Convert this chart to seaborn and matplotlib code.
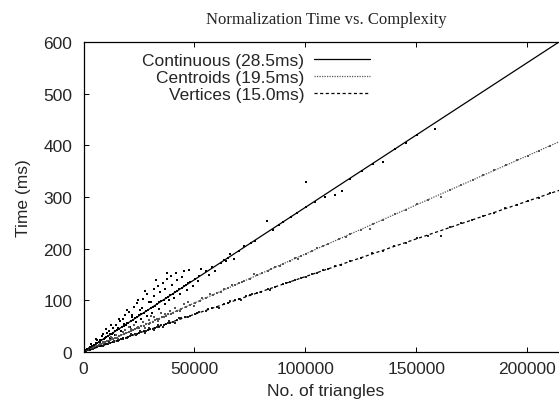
import matplotlib
matplotlib.use("Agg")
import matplotlib.pyplot as plt
import seaborn as sns
from matplotlib.lines import Line2D

# ---------------- data ----------------
cont_x = [900, 1800, 2600, 3100, 3900, 4600, 5200, 5600, 6100, 6300, 7200, 7600, 8100, 8400,
          9100, 9600, 10200, 10500, 11100, 11600, 12100, 12700, 13200, 13400, 14100, 14700,
          15200, 15600, 16100, 16400, 17200, 17600, 18100, 18700, 19200, 19600, 20100, 20400,
          21200, 21700, 22100, 22600, 23200, 24100, 24300, 25200, 25600, 26100, 26700, 27100,
          28200, 28400, 29100, 30200, 30500, 31100, 31600, 32200, 33100, 33400, 34200, 35100,
          35600, 36200, 37100, 37400, 38200, 39100, 39300, 40200, 41100, 41600, 42200, 43100,
          44200, 45100, 45300, 46200, 47100, 48200, 50300, 52100, 55200, 58100, 63200, 64300,
          65100, 70200, 75300, 77100, 82800, 85200, 90100, 93300, 100200, 100400, 104100,
          113200, 116300, 120100, 125400, 130200, 134800, 140300, 145100, 150200, 158300,
          3500, 5800, 7400, 8800, 10300, 11800, 12600, 14300, 15800, 16900, 18300, 19700,
          20800, 21900, 23600, 24700, 25800, 26300, 27600, 28800, 29600, 30900, 31900, 32600,
          33800, 34600, 36500, 36900, 37800, 38600, 39800, 40700, 41900, 43400, 44600, 46800,
          47600, 49200, 51800, 53100, 56400, 59300, 61800, 66200, 67800, 72100, 88300, 96200,
          108600]
cont_y = [3, 6, 8, 9, 12, 14, 14, 17, 18, 23, 20, 24, 23, 31, 26, 27, 29, 36, 31, 41, 34,
          35, 37, 47, 40, 53, 42, 46, 45, 60, 49, 63, 50, 72, 53, 57, 56, 77, 60, 67, 62, 88,
          65, 67, 94, 72, 82, 73, 103, 76, 79, 112, 82, 86, 96, 87, 121, 90, 93, 128, 96, 99,
          133, 101, 104, 142, 107, 110, 147, 113, 116, 152, 119, 121, 124, 127, 157, 130, 133,
          136, 141, 147, 156, 164, 178, 176, 182, 195, 211, 214, 254, 237, 251, 262, 329, 280,
          291, 304, 312, 335, 351, 363, 367, 392, 404, 420, 431,
          15, 25, 19, 34, 44, 28, 52, 33, 63, 41, 55, 81, 48, 72, 58, 101, 64, 86, 118, 70,
          97, 76, 108, 140, 84, 117, 122, 92, 152, 100, 129, 104, 139, 112, 146, 120, 158,
          128, 138, 160, 150, 157, 172, 190, 180, 205, 245, 270, 300]

cent_x = [1100, 1900, 3200, 3800, 5100, 6200, 6900, 8100, 9200, 9800, 11100, 11900, 12300,
          13200, 14100, 14900, 16200, 16800, 18100, 19200, 20300, 20500, 21200, 22100, 23300,
          24100, 25200, 26100, 27200, 28100, 29300, 30100, 30400, 31200, 32100, 33200, 34100,
          35300, 36100, 37200, 38100, 39200, 40100, 42300, 44100, 46200, 48100, 50200, 52300,
          55100, 58200, 60100, 63300, 65100, 68200, 70100, 72300, 75200, 78100, 80300, 83100,
          86200, 90100, 93200, 95300, 98100, 100200, 103100, 105300, 108100, 110200, 115100,
          118300, 120100, 125200, 129000, 130200, 135100, 140300, 145200, 150100, 155300,
          161000, 165200, 170100, 175300, 180200, 185100, 190300, 195200, 200100, 205300, 210200,
          2500, 4300, 5700, 7500, 8700, 10400, 12800, 14600, 15500, 17600, 18800, 21600, 22800,
          24600, 26700, 27800, 29700, 31600, 33700, 34800, 36700, 38800, 41200, 43300, 45400,
          47300, 49600, 53400, 57100, 61900, 66700, 71300, 76800, 84400, 88700, 96800]
cent_y = [2, 4, 6, 8, 10, 11, 14, 15, 17, 20, 21, 23, 30, 25, 27, 28, 31, 33, 34, 36, 38,
          48, 40, 42, 44, 46, 47, 50, 51, 54, 55, 57, 70, 59, 61, 63, 64, 67, 68, 70, 73, 74,
          76, 80, 83, 88, 91, 95, 99, 105, 110, 114, 121, 123, 130, 133, 138, 142, 149, 152,
          157, 164, 171, 176, 181, 186, 190, 195, 201, 205, 209, 219, 223, 229, 237, 238, 248,
          256, 267, 275, 286, 294, 300, 314, 323, 333, 342, 352, 361, 371, 380, 390, 399,
          7, 10, 14, 16, 19, 22, 28, 32, 25, 38, 42, 45, 52, 49, 58, 47, 62, 68, 60, 75, 73,
          80, 86, 79, 92, 96, 90, 104, 112, 116, 130, 135, 151, 160, 166, 180]

vert_x = [1000, 2100, 2900, 4100, 4900, 6100, 7100, 7900, 9100, 10100, 10900, 12100, 13100,
          13900, 15100, 16100, 17100, 17900, 19100, 20100, 21100, 21900, 23100, 24100, 25100,
          25900, 27100, 28100, 29100, 29900, 31100, 32100, 33100, 33900, 35100, 36100, 37100,
          37900, 39100, 40100, 42100, 44100, 45900, 48100, 50100, 52100, 55100, 58100, 60100,
          63100, 65100, 68100, 70100, 73100, 75100, 78100, 80100, 83100, 86100, 90100, 93100,
          95100, 98100, 100100, 103100, 105100, 108100, 110100, 113100, 116100, 120100, 125100,
          130100, 135100, 140100, 145100, 150100, 155100, 161000, 165100, 170100, 175100,
          180100, 185100, 190100, 195100, 200100, 205100, 210100,
          2600, 4600, 6700, 8600, 9600, 11600, 13600, 15600, 17600, 19600, 21600, 23600, 25600,
          27600, 29600, 31600, 33600, 35600, 38600, 41100, 43100, 47100, 51100, 56100, 61100,
          66100, 71100, 76100, 84100, 91100]
vert_y = [1.5, 3, 4.5, 6, 7, 9, 11, 11, 14, 15, 16, 18, 20, 20, 22, 24, 25, 26, 28, 30, 31,
          32, 34, 35, 37, 38, 40, 41, 43, 44, 45, 47, 49, 49, 52, 53, 54, 56, 57, 59, 61, 65,
          67, 70, 73, 77, 80, 86, 88, 93, 95, 100, 102, 108, 110, 115, 117, 122, 126, 132,
          136, 139, 144, 146, 151, 153, 159, 160, 166, 168, 176, 182, 191, 196, 205, 211, 220,
          225, 224, 241, 249, 255, 264, 269, 278, 284, 293, 298, 307,
          5, 8, 11, 12, 16, 19, 22, 21, 28, 27, 35, 33, 40, 36, 46, 43, 52, 48, 60, 57, 66,
          68, 75, 84, 86, 99, 101, 113, 120, 134]

fit_x = [0, 218500]
cont_fit = [0, 612]
cent_fit = [0, 415]
vert_fit = [0, 319]

labels = ["Continuous (28.5ms)", "Centroids (19.5ms)", "Vertices (15.0ms)"]
x_ticks = [0, 50000, 100000, 150000, 200000]
y_ticks = [0, 100, 200, 300, 400, 500, 600]

# ---------------- style ----------------
sns.set_style("ticks")
plt.rcParams["font.family"] = ["Liberation Sans", "DejaVu Sans"]
plt.rcParams["xtick.direction"] = "in"
plt.rcParams["ytick.direction"] = "in"

fig = plt.figure(figsize=(5.59, 4.10), dpi=100)
ax = fig.add_axes([83.5 / 559, 57 / 410, 485 / 559, 310 / 410])

dot_kw = dict(s=3, marker="s", linewidth=0, legend=False, ax=ax)
sns.scatterplot(x=cont_x, y=cont_y, color="black", **dot_kw)
sns.scatterplot(x=cent_x, y=cent_y, color="#555555", **dot_kw)
sns.scatterplot(x=vert_x, y=vert_y, color="#222222", **dot_kw)

sns.lineplot(x=fit_x, y=cont_fit, color="black", linewidth=0.9, ax=ax)
sns.lineplot(x=fit_x, y=cent_fit, color="#555555", linewidth=0.9, linestyle=(0, (1, 1)), ax=ax)
sns.lineplot(x=fit_x, y=vert_fit, color="black", linewidth=0.9, linestyle=(0, (2.5, 2)), ax=ax)

ax.set_xlim(fit_x[0], fit_x[1])
ax.set_ylim(0, 600)
ax.set_xticks(x_ticks)
ax.set_xticklabels([str(t) for t in x_ticks])
ax.set_yticks(y_ticks)
ax.tick_params(axis="both", labelsize=12.5, length=3.3, width=0.7, color="black")
ax.tick_params(axis="x", pad=6.5, top=True)
ax.tick_params(axis="y", pad=8, right=False)
for sp in ax.spines.values():
    sp.set_linewidth(0.9)
    sp.set_color("black")
ax.spines["right"].set_visible(False)

ax.set_xlabel("No. of triangles", fontsize=12.5, labelpad=5)
ax.set_ylabel("Time (ms)", fontsize=12.5, labelpad=9)
ax.set_title("Normalization Time vs. Complexity", fontsize=12,
             family=["Liberation Serif", "DejaVu Serif"], pad=14)

handles = [
    Line2D([], [], color="black", linewidth=0.9),
    Line2D([], [], color="#555555", linewidth=0.9, linestyle=(0, (1, 1))),
    Line2D([], [], color="black", linewidth=0.9, linestyle=(0, (2.5, 2))),
]
ax.legend(handles, labels, loc="upper right", bbox_to_anchor=((370 - 83.5) / 485, 0.965),
          frameon=False, markerfirst=False, fontsize=12.5, handlelength=3.2,
          handletextpad=0.6, labelspacing=0.12, borderpad=0, borderaxespad=0)

fig.savefig("out.png", dpi=100)
